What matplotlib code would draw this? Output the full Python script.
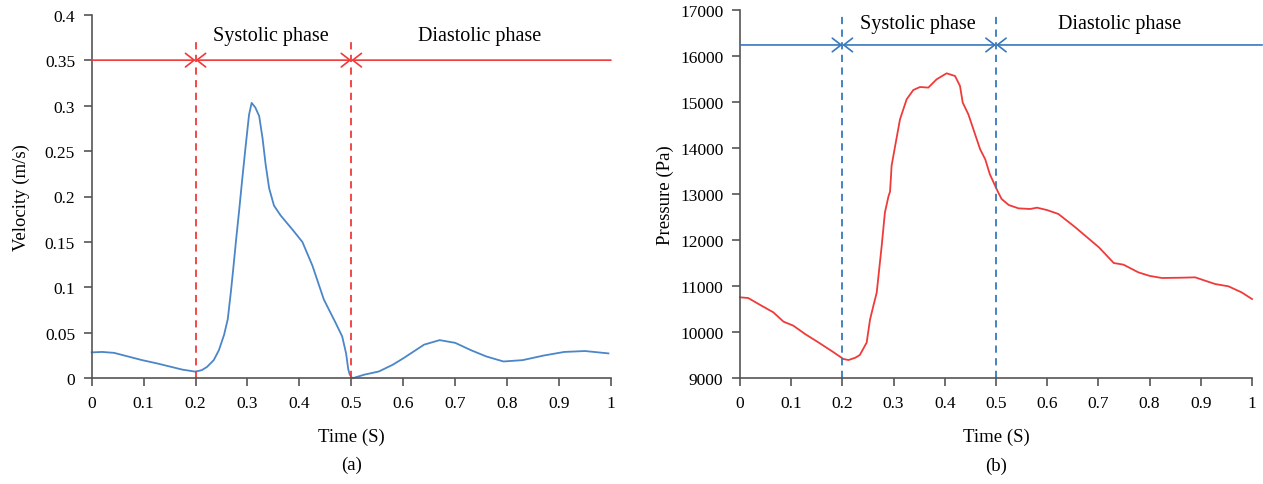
import matplotlib.pyplot as plt
import numpy as np

plt.rcParams['font.family'] = ['Liberation Serif', 'DejaVu Serif']

# velocity waveform (a)
t_vel = [0, 0.02, 0.043, 0.07, 0.097, 0.125, 0.15, 0.175, 0.2, 0.212, 0.222, 0.235,
         0.245, 0.255, 0.262, 0.268, 0.2725, 0.278, 0.284, 0.289, 0.296, 0.303, 0.308,
         0.315, 0.3225, 0.329, 0.335, 0.3417, 0.351, 0.364, 0.386, 0.4057, 0.425,
         0.447, 0.4697, 0.4824, 0.49, 0.494, 0.497, 0.502, 0.525, 0.553, 0.58, 0.6,
         0.64, 0.67, 0.7, 0.73, 0.76, 0.793, 0.83, 0.87, 0.91, 0.95, 0.995]
velocity = [0.0285, 0.029, 0.028, 0.024, 0.020, 0.0165, 0.013, 0.0095, 0.0073, 0.009,
            0.0125, 0.02, 0.031, 0.048, 0.065, 0.095, 0.12, 0.152, 0.185, 0.214, 0.253,
            0.29, 0.303, 0.298, 0.2885, 0.264, 0.235, 0.209, 0.19, 0.179, 0.164, 0.15,
            0.124, 0.0867, 0.061, 0.046, 0.027, 0.01, 0.004, 0.0, 0.004, 0.0075, 0.015,
            0.022, 0.037, 0.042, 0.039, 0.031, 0.024, 0.0185, 0.02, 0.025, 0.029, 0.030,
            0.0274]

# pressure waveform (b)
t_pres = [0, 0.016, 0.042, 0.065, 0.085, 0.104, 0.128, 0.153, 0.18, 0.202, 0.212,
          0.225, 0.234, 0.2474, 0.254, 0.2604, 0.267, 0.2767, 0.283, 0.29, 0.293,
          0.295, 0.296, 0.303, 0.3125, 0.3255, 0.3385, 0.3516, 0.3678, 0.384, 0.4036,
          0.42, 0.4297, 0.435, 0.446, 0.469, 0.479, 0.488, 0.5045, 0.511, 0.525, 0.544,
          0.567, 0.58, 0.6, 0.622, 0.655, 0.701, 0.73, 0.749, 0.778, 0.8, 0.824, 0.86,
          0.889, 0.928, 0.954, 0.98, 1.0]
pressure = [10754, 10739, 10572, 10428, 10225, 10138, 9950, 9775, 9580, 9413, 9391,
            9440, 9500, 9770, 10272, 10565, 10855, 11870, 12596, 12950, 13050, 13400,
            13609, 14043, 14624, 15059, 15261, 15326, 15313, 15493, 15624, 15565, 15348,
            14987, 14733, 13972, 13754, 13428, 13030, 12891, 12760, 12688, 12674, 12703,
            12650, 12565, 12275, 11841, 11500, 11464, 11297, 11220, 11174, 11180, 11188,
            11043, 10993, 10860, 10717]

phase_bounds = [0.2, 0.5]

red = '#f03a3a'
blue = '#4a86c8'
dblue = '#3878bd'
spine_col = '#555555'

fig = plt.figure(figsize=(12.63, 4.85), dpi=100)
ax1 = fig.add_axes([91.7 / 1263, 105.7 / 485, 519.3 / 1263, 363.6 / 485])
ax2 = fig.add_axes([740 / 1263, 106 / 485, 512 / 1263, 368 / 485])


def style_axes(ax):
    for s in ['top', 'right']:
        ax.spines[s].set_visible(False)
    for s in ['left', 'bottom']:
        ax.spines[s].set_color(spine_col)
        ax.spines[s].set_linewidth(1.2)
    ax.tick_params(direction='out', length=6, width=1.2, color=spine_col,
                   labelsize=12.5, pad=6)
    ax.set_xlim(0, 1)
    ax.set_xticks(np.arange(0, 1.01, 0.1))
    ax.set_xticklabels(['0'] + ['%g' % v for v in np.arange(0.1, 0.95, 0.1)] + ['1'])
    ax.set_xlabel('Time (S)', fontsize=13.5, labelpad=12)


def phase_arrows(ax, y, color, x_end):
    kw = dict(color=color, lw=1.2, shrinkA=0, shrinkB=0, mutation_scale=14)
    head = '->, head_length=0.45, head_width=0.35'
    both = '<->, head_length=0.45, head_width=0.35'
    ax.annotate('', xy=(phase_bounds[0], y), xytext=(0, y),
                arrowprops=dict(arrowstyle=head, **kw), annotation_clip=False)
    ax.annotate('', xy=(phase_bounds[1], y), xytext=(phase_bounds[0], y),
                arrowprops=dict(arrowstyle=both, **kw), annotation_clip=False)
    ax.annotate('', xy=(phase_bounds[1], y), xytext=(x_end, y),
                arrowprops=dict(arrowstyle=head, **kw), annotation_clip=False)


# (a) velocity
style_axes(ax1)
ax1.set_ylim(0, 0.4)
ax1.set_yticks(np.arange(0, 0.401, 0.05))
ax1.set_yticklabels(['0'] + ['%g' % round(v, 2) for v in np.arange(0.05, 0.401, 0.05)])
ax1.plot(t_vel, velocity, color=blue, lw=1.3, clip_on=False)
for b in phase_bounds:
    ax1.axvline(b, ymin=0, ymax=0.93, color=red, lw=1.3, ls=(0, (4, 3)))
phase_arrows(ax1, 0.35, red, 1.0)
ax1.text(0.345, 0.3766, 'Systolic phase', ha='center', va='center', fontsize=14.5)
ax1.text(0.747, 0.3766, 'Diastolic phase', ha='center', va='center', fontsize=14.5)
ax1.set_ylabel('Velocity (m/s)', fontsize=13.5, labelpad=11)
ax1.text(0.5, -0.236, '(a)', transform=ax1.transAxes, ha='center', va='center',
         fontsize=13.5)

# (b) pressure
style_axes(ax2)
ax2.set_ylim(9000, 17000)
ax2.set_yticks(np.arange(9000, 17001, 1000))
ax2.plot(t_pres, pressure, color=red, lw=1.3, clip_on=False)
for b in phase_bounds:
    ax2.axvline(b, ymin=0, ymax=0.99, color=dblue, lw=1.3, ls=(0, (4, 3)))
phase_arrows(ax2, 16240, dblue, 1.02)
ax2.text(0.348, 16711, 'Systolic phase', ha='center', va='center', fontsize=14.5)
ax2.text(0.742, 16711, 'Diastolic phase', ha='center', va='center', fontsize=14.5)
ax2.set_ylabel('Pressure (Pa)', fontsize=13.5, labelpad=4)
ax2.text(0.5, -0.236, '(b)', transform=ax2.transAxes, ha='center', va='center',
         fontsize=13.5)

fig.savefig('out.png', dpi=100)
